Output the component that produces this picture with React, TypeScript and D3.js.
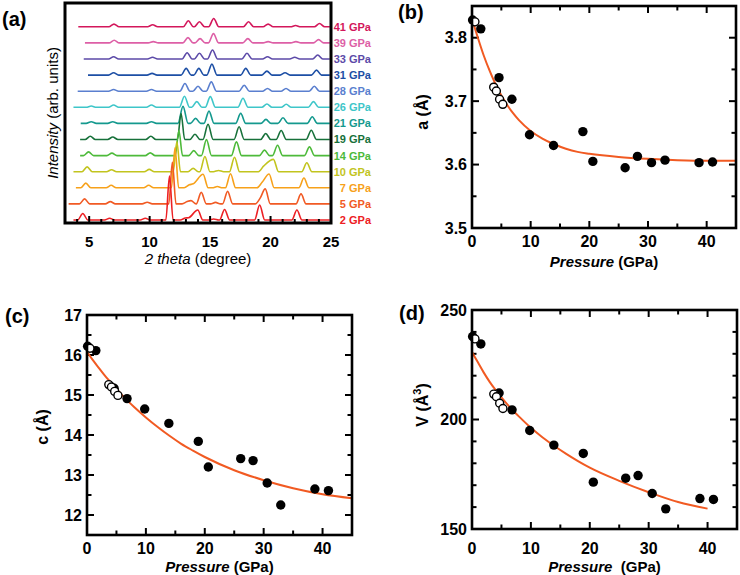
import React from 'react';
import * as d3 from 'd3';

const FONT = '"Liberation Sans", Arial, Helvetica, sans-serif';
const FIT_COLOR = '#f15a22';

// ---- (a) XRD patterns, listed bottom to top ----
const pressureLabels = ['2 GPa', '5 GPa', '7 GPa', '10 GPa', '14 GPa', '19 GPa', '21 GPa', '26 GPa', '28 GPa', '31 GPa', '33 GPa', '39 GPa', '41 GPa'];
const traceColors = ['#ed2024', '#f15a24', '#f7a11a', '#c2c41e', '#4dba3a', '#17713a', '#14998e', '#3ec6c9', '#5a7fcf', '#1d4fa5', '#5c4aa8', '#dd5fa6', '#d3175b'];
const traceStart = [3.7, 3.3, 3.9, 3.7, 4.25, 4.25, 4.3, 3.7, 4.05, 4.9, 4.55, 4.65, 4.1];

// [2theta, intensity] of each visible reflection
const peaks02 = [[4.47, 6.5], [6.69, 1.7], [9.64, 1.7], [11.64, 44], [12.95, 2], [13.22, 2.3], [13.98, 10], [15.3, 1], [16.2, 10.5], [19.1, 15], [22.18, 10]];
const peaks05 = [[4.62, 5], [6.75, 2.3], [9.8, 1.7], [11.88, 41.5], [13.1, 2.3], [13.42, 3.3], [14.27, 11.5], [15.45, 1.5], [16.45, 12.5], [19.15, 6], [19.56, 15], [22.52, 10]];
const peaks07 = [[4.72, 4.7], [6.82, 2.5], [9.92, 2.5], [12.1, 40], [13.28, 3], [13.6, 4], [14.42, 13.5], [15.6, 1.3], [16.69, 14], [19.3, 5.5], [19.88, 13.8], [22.76, 9.8]];
const peaks10 = [[4.83, 4.8], [6.85, 2], [9.97, 2.3], [12.25, 30], [13.6, 3.3], [14.57, 15.2], [15.7, 1.2], [17.02, 14.5], [19.42, 5.5], [20.24, 12.3], [23.0, 9]];
const peaks14 = [[4.95, 3.7], [6.88, 2.5], [10.05, 2.7], [12.42, 25], [13.65, 5], [14.7, 16], [17.18, 13.7], [19.5, 5.5], [20.58, 10.3], [23.22, 8.7]];
const peaks19 = [[5.09, 3.3], [6.95, 2.5], [10.1, 3.3], [12.6, 26], [13.75, 5.3], [14.83, 15.3], [17.4, 12.7], [19.6, 6], [20.88, 9], [23.37, 9.3]];
const peaks21 = [[5.17, 1.7], [6.95, 1.7], [10.15, 1.7], [12.76, 17], [13.8, 5], [14.91, 12.3], [17.53, 10], [19.62, 4], [21.03, 5.7], [23.45, 6.7]];
const peaks26 = [[5.17, 1.3], [7.02, 2.3], [10.15, 2.3], [12.88, 11], [13.9, 5.7], [15.02, 10.7], [17.72, 9], [19.7, 3.3], [21.3, 3], [23.55, 5.7]];
const peaks28 = [[7.02, 1.7], [10.15, 1.7], [12.92, 7.7], [14.0, 5], [15.1, 9.3], [17.82, 6], [19.75, 2.7], [21.28, 2.7], [23.62, 5]];
const peaks31 = [[7.02, 2.3], [10.2, 1.7], [13.02, 6.7], [14.07, 6.7], [15.15, 11], [17.95, 6.7], [19.7, 4], [21.2, 2.3], [23.8, 5]];
const peaks33 = [[7.02, 2.3], [10.24, 1.7], [13.1, 6.3], [14.12, 5.7], [15.2, 9], [18.05, 5.7], [19.75, 2.3], [22.0, 1.7], [23.9, 4]];
const peaks39 = [[7.07, 2.7], [10.3, 1.3], [13.17, 5.3], [14.17, 4.3], [15.28, 9.3], [18.12, 4.3], [19.8, 1.3], [22.1, 1.3], [23.97, 3.3]];
const peaks41 = [[7.05, 2.7], [10.25, 2], [13.2, 6], [14.12, 5], [15.3, 8.3], [18.18, 5], [19.8, 2.7], [22.07, 1.3], [24.05, 3.3]];
const tracePeaks = [peaks02, peaks05, peaks07, peaks10, peaks14, peaks19, peaks21, peaks26, peaks28, peaks31, peaks33, peaks39, peaks41];
const OFFSET_STEP = 16.1;
const thetaLabels = [5, 10, 15, 20, 25];

// ---- (b)-(d) lattice parameters vs pressure ----
const filledP = [0.1, 1.5, 4.6, 6.8, 9.8, 13.9, 18.9, 20.6, 26.1, 28.2, 30.6, 32.9, 38.7, 41.0];
const filledA = [3.828, 3.814, 3.737, 3.703, 3.647, 3.630, 3.652, 3.605, 3.595, 3.613, 3.603, 3.607, 3.603, 3.604];
const filledC = [16.22, 16.11, 15.17, 14.91, 14.65, 14.29, 13.84, 13.20, 13.41, 13.36, 12.80, 12.25, 12.65, 12.61];
const filledV = [237.9, 234.5, 212.1, 204.4, 195.0, 188.3, 184.5, 171.4, 173.2, 174.4, 166.2, 159.2, 163.9, 163.5];
const openP = [0.5, 3.7, 4.15, 4.7, 5.25];
const openA = [3.825, 3.722, 3.716, 3.703, 3.695];
const openC = [16.17, 15.26, 15.20, 15.09, 14.99];
const openV = [236.8, 211.6, 210.4, 207.4, 205.0];

const fitP = [0, 1, 2, 3, 4, 5, 6, 7, 8, 10, 12, 14, 16, 18, 20, 25, 30, 35, 40, 45];
const fitA = [3.830, 3.800, 3.772, 3.748, 3.727, 3.709, 3.694, 3.681, 3.670, 3.653, 3.641, 3.632, 3.625, 3.620, 3.617, 3.612, 3.609, 3.607, 3.606, 3.606];
const fitC = [16.08, 15.87, 15.68, 15.49, 15.32, 15.15, 14.99, 14.84, 14.70, 14.44, 14.20, 13.98, 13.78, 13.61, 13.45, 13.12, 12.87, 12.67, 12.52, 12.42];
const fitPV = [0, 1, 2, 3, 4, 5, 6, 7, 8, 10, 12, 14, 16, 18, 20, 25, 30, 35, 40];
const fitV = [230.8, 226.1, 221.4, 217.2, 213.5, 210.1, 206.9, 204.0, 201.3, 196.2, 191.8, 187.9, 184.3, 181.0, 178.0, 172.0, 166.8, 162.3, 159.3];

const pressureTicks = [0, 10, 20, 30, 40];

// outline of one pattern: flat baseline with a bump at each reflection
function tracePoints(start: number, peaks: number[][], end: number) {
    const halfW = (h: number) => (h > 20 ? 0.3 : 0.42);
    const pts: number[][] = [[start, 0], [end, 0]];
    peaks.forEach(([pos, h]) => {
        pts.push([pos, h]);
        [pos - halfW(h), pos + halfW(h)].forEach((bx) => {
            const inside = peaks.some(([p2, h2]) => p2 !== pos && Math.abs(bx - p2) < halfW(h2));
            if (!inside) pts.push([bx, 0]);
        });
    });
    pts.sort((a, b) => a[0] - b[0]);
    return pts.filter((p, i) => p[0] >= start && p[0] <= end && (i === 0 || p[0] - pts[i - 1][0] > 1e-6));
}

function XrdPanel() {
    const x = d3.scaleLinear().domain([3, 25]).range([65, 331]);
    const y = d3.scaleLinear().domain([-3, 217]).range([223, 3]);
    const line = d3.line<number[]>()
        .x((d) => x(d[0]))
        .y((d) => d[1])
        .curve(d3.curveMonotoneX);

    const order = d3.range(pressureLabels.length).reverse();
    return (
        <g>
            {order.map((i) => {
                const off = i * OFFSET_STEP;
                const pts = tracePoints(traceStart[i], tracePeaks[i], 24.9).map((p) => [p[0], y(off + p[1])]);
                return (
                    <g key={i}>
                        <path d={line(pts) || ''} fill="none" stroke={traceColors[i]} strokeWidth={1.6} />
                        <text x={371} y={y(off)} dy="0.36em" textAnchor="end" fontSize={11} fontWeight="bold" fill={traceColors[i]}>
                            {pressureLabels[i]}
                        </text>
                    </g>
                );
            })}
            {d3.range(4, 25).map((t) => (
                <line key={t} x1={x(t)} x2={x(t)} y1={223} y2={t % 5 === 0 ? 216 : 219} stroke="#000" strokeWidth={2} />
            ))}
            <rect x={65} y={3} width={266} height={220} fill="none" stroke="#000" strokeWidth={3} />
            {thetaLabels.map((t) => (
                <text key={t} x={x(t)} y={242} dy="0.36em" textAnchor="middle" fontSize={15} fontWeight="bold">{t}</text>
            ))}
            <text x={198} y={259} dy="0.36em" textAnchor="middle" fontSize={15}>
                <tspan fontStyle="italic">2 theta</tspan> (degree)
            </text>
            <text transform="translate(53,113) rotate(-90)" dy="0.36em" textAnchor="middle" fontSize={15}>
                <tspan fontStyle="italic">Intensity</tspan> (arb. units)
            </text>
        </g>
    );
}

type PanelProps = {
    left: number; right: number; top: number; bottom: number;
    yDomain: number[]; yMajor: number[]; yMinor: number[]; yFmt: (v: number) => string;
    xLabelY: number; titleY: number; xTitleGap?: boolean;
    fitX: number[]; fitY: number[]; fillY: number[]; openY: number[];
    yTitle: React.ReactNode; yTitleX: number; yTitleY: number;
};

function LatticePanel(props: PanelProps) {
    const { left, right, top, bottom } = props;
    const x = d3.scaleLinear().domain([0, 45]).range([left, right]);
    const y = d3.scaleLinear().domain(props.yDomain).range([bottom, top]);
    const fitLine = d3.line<number>()
        .x((d, i) => x(props.fitX[i]))
        .y((d) => y(d))
        .curve(d3.curveMonotoneX);
    const xMajor = [10, 20, 30, 40];
    const xMinor = [5, 15, 25, 35];
    const MAJ = 7, MIN = 4.5;

    return (
        <g>
            {xMajor.concat(xMinor).map((t) => {
                const len = xMajor.includes(t) ? MAJ : MIN;
                return (
                    <g key={'x' + t}>
                        <line x1={x(t)} x2={x(t)} y1={bottom} y2={bottom - len} stroke="#000" strokeWidth={2} />
                        <line x1={x(t)} x2={x(t)} y1={top} y2={top + len} stroke="#000" strokeWidth={2} />
                    </g>
                );
            })}
            {props.yMajor.concat(props.yMinor).map((t) => {
                const len = props.yMajor.includes(t) ? MAJ : MIN;
                return (
                    <g key={'y' + t}>
                        <line x1={left} x2={left + len} y1={y(t)} y2={y(t)} stroke="#000" strokeWidth={2} />
                        <line x1={right} x2={right - len} y1={y(t)} y2={y(t)} stroke="#000" strokeWidth={2} />
                    </g>
                );
            })}
            <path d={fitLine(props.fitY) || ''} fill="none" stroke={FIT_COLOR} strokeWidth={2} />
            {filledP.map((p, i) => (
                <circle key={'f' + i} cx={x(p)} cy={y(props.fillY[i])} r={4.7} fill="#000" />
            ))}
            {openP.map((p, i) => (
                <circle key={'o' + i} cx={x(p)} cy={y(props.openY[i])} r={4} fill="#fff" stroke="#000" strokeWidth={1.4} />
            ))}
            <rect x={left} y={top} width={right - left} height={bottom - top} fill="none" stroke="#000" strokeWidth={2.6} />
            {pressureTicks.map((t) => (
                <text key={'xl' + t} x={x(t)} y={props.xLabelY} dy="0.36em" textAnchor="middle" fontSize={16} fontWeight="bold">{t}</text>
            ))}
            {props.yMajor.map((t) => (
                <text key={'yl' + t} x={left - 5} y={y(t)} dy="0.36em" textAnchor="end" fontSize={16} fontWeight="bold">{props.yFmt(t)}</text>
            ))}
            <text x={(left + right) / 2} y={props.titleY} dy="0.36em" textAnchor="middle" fontSize={15} fontWeight="bold">
                <tspan fontStyle="italic">Pressure</tspan>{props.xTitleGap ? '\u00a0 (GPa)' : ' (GPa)'}
            </text>
            <text transform={`translate(${props.yTitleX},${props.yTitleY}) rotate(-90)`} dy="0.36em" textAnchor="middle" fontSize={16} fontWeight="bold">
                {props.yTitle}
            </text>
        </g>
    );
}

export default function App() {
    return (
        <svg width={740} height={575} style={{ position: 'absolute', left: 0, top: 0, background: '#fff' }} fontFamily={FONT}>
            <XrdPanel />
            <LatticePanel
                left={472} right={736} top={6} bottom={228}
                yDomain={[3.5, 3.85]} yMajor={[3.5, 3.6, 3.7, 3.8]} yMinor={[3.55, 3.65, 3.75]} yFmt={d3.format('.1f')}
                xLabelY={241} titleY={262}
                fitX={fitP} fitY={fitA} fillY={filledA} openY={openA}
                yTitle={<>a (Å)</>} yTitleX={422} yTitleY={112}
            />
            <LatticePanel
                left={87} right={352} top={315} bottom={535}
                yDomain={[11.5, 17]} yMajor={[12, 13, 14, 15, 16, 17]} yMinor={[12.5, 13.5, 14.5, 15.5, 16.5]} yFmt={d3.format('d')}
                xLabelY={548} titleY={567}
                fitX={fitP} fitY={fitC} fillY={filledC} openY={openC}
                yTitle={<>c (Å)</>} yTitleX={42} yTitleY={427}
            />
            <LatticePanel
                left={472} right={737} top={310} bottom={529}
                yDomain={[150, 250]} yMajor={[150, 200, 250]} yMinor={[160, 170, 180, 190, 210, 220, 230, 240]} yFmt={d3.format('d')}
                xLabelY={548} titleY={567} xTitleGap
                fitX={fitPV} fitY={fitV} fillY={filledV} openY={openV}
                yTitle={<>V (Å<tspan dy={-7} fontSize={11}>3</tspan><tspan dy={7}>)</tspan></>} yTitleX={422} yTitleY={405}
            />
            <text x={2} y={26} fontSize={20} fontWeight="bold">(a)</text>
            <text x={398} y={19} fontSize={20} fontWeight="bold">(b)</text>
            <text x={5} y={323} fontSize={20} fontWeight="bold">(c)</text>
            <text x={399} y={320} fontSize={20} fontWeight="bold">(d)</text>
        </svg>
    );
}
